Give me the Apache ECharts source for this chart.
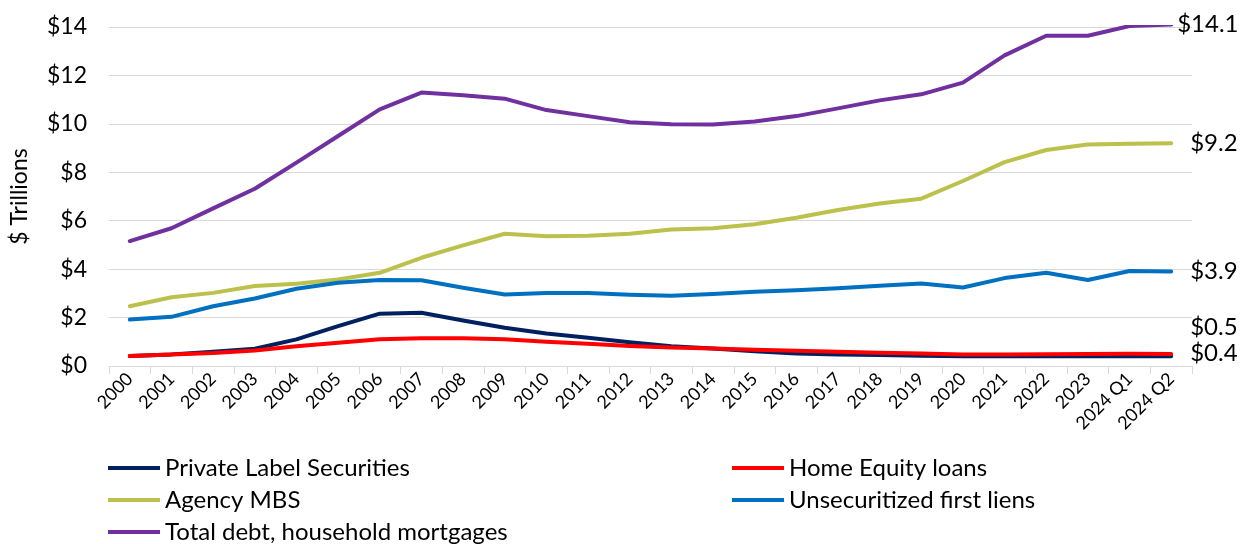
<!DOCTYPE html>
<html>
<head>
<meta charset="utf-8">
<script src="https://cdn.jsdelivr.net/npm/echarts@6/dist/echarts.min.js"></script>
<style>
  html, body { margin: 0; padding: 0; background: #fff; }
  #chart { width: 1240px; height: 544px; }
</style>
</head>
<body>
<div id="chart"></div>
<script>
// Mortgage debt outstanding by holder type, $ trillions
const categories = ['2000','2001','2002','2003','2004','2005','2006','2007','2008','2009',
  '2010','2011','2012','2013','2014','2015','2016','2017','2018','2019',
  '2020','2021','2022','2023','2024 Q1','2024 Q2'];

const privateLabel = [0.41,0.48,0.59,0.71,1.10,1.65,2.16,2.20,1.88,1.58,
  1.34,1.17,0.98,0.82,0.72,0.61,0.52,0.48,0.45,0.42,
  0.40,0.40,0.40,0.40,0.40,0.40];
const homeEquity = [0.41,0.48,0.54,0.64,0.82,0.96,1.10,1.15,1.15,1.10,
  1.00,0.92,0.83,0.76,0.72,0.67,0.63,0.59,0.55,0.52,
  0.48,0.48,0.49,0.50,0.51,0.50];
const agencyMBS = [2.47,2.84,3.02,3.30,3.40,3.57,3.85,4.47,4.98,5.46,
  5.36,5.38,5.46,5.64,5.69,5.85,6.12,6.44,6.71,6.91,
  7.64,8.42,8.92,9.15,9.18,9.20];
const unsecuritized = [1.92,2.03,2.47,2.79,3.19,3.44,3.55,3.54,3.23,2.95,
  3.01,3.01,2.94,2.90,2.97,3.07,3.13,3.21,3.31,3.41,
  3.24,3.63,3.85,3.55,3.92,3.90];
const totalDebt = [5.16,5.69,6.51,7.32,8.40,9.50,10.60,11.29,11.18,11.04,
  10.57,10.32,10.07,9.98,9.97,10.10,10.32,10.64,10.97,11.22,
  11.70,12.83,13.64,13.64,14.04,14.10];

const yTicks = { min: 0, max: 14, interval: 2 };

const FONT = 'Lato, "Open Sans", sans-serif';
const chart = echarts.init(document.getElementById('chart'), null, { renderer: 'canvas' });

function lineSeries(name, data, color, labelDistance, labelOffsetY) {
  return {
    name: name,
    type: 'line',
    data: data,
    symbol: 'none',
    smooth: false,
    lineStyle: { color: color, width: 4, cap: 'round', join: 'round' },
    itemStyle: { color: color },
    endLabel: {
      show: true,
      formatter: p => '$' + Number(p.value).toFixed(1),
      color: '#000',
      fontFamily: FONT,
      fontSize: 24,
      distance: labelDistance,
      offset: [0, labelOffsetY]
    },
    emphasis: { disabled: true },
    animation: false
  };
}

const legendCommon = {
  orient: 'vertical',
  icon: 'rect',
  itemWidth: 52,
  itemHeight: 4,
  itemGap: 8,
  padding: 0,
  height: 110,
  textStyle: { fontFamily: FONT, fontSize: 24, color: '#000' },
  selectedMode: false
};

chart.setOption({
  backgroundColor: '#fff',
  animation: false,
  grid: { left: 107, right: 48, top: 27, bottom: 178, containLabel: false },
  xAxis: {
    type: 'category',
    data: categories,
    boundaryGap: true,
    axisLine: { show: true, lineStyle: { color: '#D9D9D9', width: 1 } },
    axisTick: { show: true, length: 8, lineStyle: { color: '#D9D9D9' } },
    axisLabel: {
      rotate: 45, interval: 0, margin: 10,
      fontFamily: FONT, fontSize: 18, color: '#000'
    },
    splitLine: { show: false }
  },
  yAxis: {
    type: 'value',
    min: yTicks.min, max: yTicks.max, interval: yTicks.interval,
    name: '$ Trillions',
    nameLocation: 'middle',
    nameGap: 78,
    nameRotate: 90,
    nameTextStyle: { fontFamily: FONT, fontSize: 23, color: '#000' },
    axisLine: { show: false },
    axisTick: { show: false },
    axisLabel: {
      formatter: v => '$' + v,
      margin: 22,
      fontFamily: FONT, fontSize: 23, color: '#000'
    },
    splitLine: { show: true, lineStyle: { color: '#D9D9D9', width: 1 } }
  },
  legend: [
    Object.assign({}, legendCommon, {
      left: 108, top: 456,
      data: ['Private Label Securities', 'Agency MBS', 'Total debt, household mortgages']
    }),
    Object.assign({}, legendCommon, {
      left: 732, top: 456,
      data: ['Home Equity loans', 'Unsecuritized first liens']
    })
  ],
  series: [
    lineSeries('Agency MBS', agencyMBS, '#BBC14C', 19, 0),
    lineSeries('Unsecuritized first liens', unsecuritized, '#0070C0', 19, 0),
    lineSeries('Total debt, household mortgages', totalDebt, '#7030A0', 6, 0),
    lineSeries('Private Label Securities', privateLabel, '#002060', 19, -3),
    lineSeries('Home Equity loans', homeEquity, '#FF0000', 19, -27)
  ]
});
</script>
</body>
</html>
